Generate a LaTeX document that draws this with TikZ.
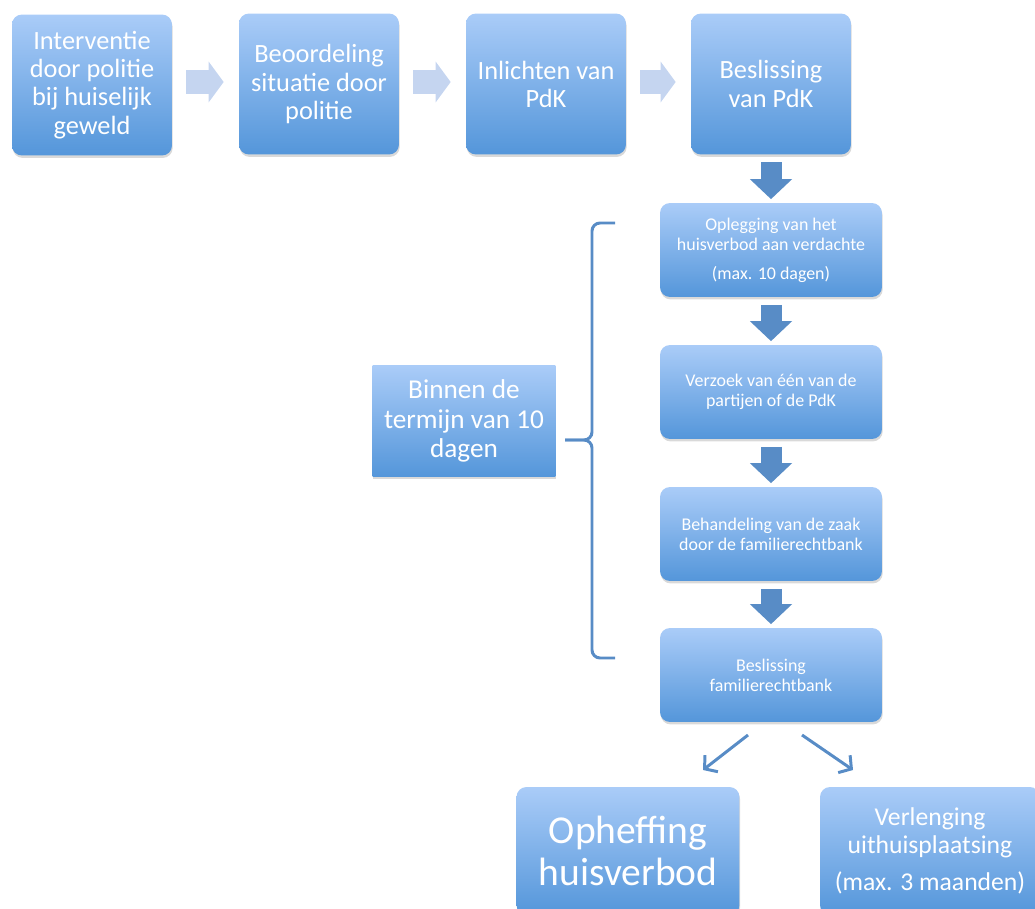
\documentclass[tikz,border=0pt]{standalone}
\usepackage{fontspec}
\setmainfont{Carlito}
\usetikzlibrary{arrows.meta,shadows}
\definecolor{boxtop}{RGB}{170,204,248}
\definecolor{boxbot}{RGB}{84,150,218}
\definecolor{darkarrow}{RGB}{88,140,198}
\definecolor{lightarrow}{RGB}{197,213,240}

\tikzset{
    box/.style={rounded corners=0.2cm, top color=boxtop, bottom color=boxbot, text=white, align=center,
        drop shadow={shadow xshift=0.4pt, shadow yshift=-1.4pt, opacity=0.3}},
    topbox/.style={box, minimum width=3.2cm, minimum height=2.82cm, font=\fontsize{15}{16}\selectfont},
    colbox/.style={box, minimum width=4.44cm, minimum height=1.88cm, font=\fontsize{10.2}{11.4}\selectfont},
    lightarr/.style={draw=lightarrow, line width=0.5cm, -{Triangle[length=0.3cm, width=0.8cm]},
        shorten <=0.28cm, shorten >=0.3cm},
    darkarr/.style={draw=darkarrow, line width=0.42cm, -{Triangle[length=0.4cm, width=0.82cm]},
        shorten <=0.15cm, shorten >=0.07cm},
    thinarr/.style={draw=darkarrow, line width=1.7pt, -{Straight Barb[length=5pt, width=12pt]}}
}

\begin{document}
\begin{tikzpicture}[x=0.02cm, y=-0.02cm]
    \useasboundingbox (0,0) rectangle (1035,909);

    \node[topbox] (interventie) at (92,85) {Interventie\\door politie\\bij huiselijk\\geweld};
    \node[topbox] (beoordeling) at (319,84) {Beoordeling\\situatie door\\politie};
    \node[topbox] (inlichten) at (546,84) {Inlichten van\\PdK};
    \node[topbox] (beslissingpdk) at (771,84) {Beslissing\\van PdK};

    \node[colbox] (oplegging) at (771,250) {Oplegging van het\\huisverbod aan verdachte\\[5pt](max. 10 dagen)};
    \node[colbox] (verzoek) at (771,392) {Verzoek van één van de\\partijen of de PdK};
    \node[colbox] (behandeling) at (771,534) {Behandeling van de zaak\\door de familierechtbank};
    \node[colbox] (beslissingfr) at (771,675) {Beslissing\\familierechtbank};

    \node[box, rounded corners=0pt, minimum width=3.66cm, minimum height=2.22cm,
        font=\fontsize{15.5}{17}\selectfont] (termijn) at (464,421) {Binnen de\\termijn van 10\\dagen};

    \node[box, minimum width=4.46cm, minimum height=2.56cm, font=\fontsize{22.5}{24}\selectfont]
        (opheffing) at (628,851) {Opheffing\\huisverbod};
    \node[box, minimum width=4.4cm, minimum height=2.56cm, font=\fontsize{14.6}{16}\selectfont]
        (verlenging) at (930,851) {Verlenging\\uithuisplaatsing\\[5pt](max. 3 maanden)};

    \path[lightarr] (interventie.east |- 0,82) -- (beoordeling.west |- 0,82);
    \path[lightarr] (beoordeling.east |- 0,82) -- (inlichten.west |- 0,82);
    \path[lightarr] (inlichten.east |- 0,82) -- (beslissingpdk.west |- 0,82);

    \path[darkarr] (beslissingpdk.south) -- (oplegging.north);
    \path[darkarr] (oplegging.south) -- (verzoek.north);
    \path[darkarr] (verzoek.south) -- (behandeling.north);
    \path[darkarr] (behandeling.south) -- (beslissingfr.north);

    % split after the decision
    \coordinate (linksvan) at (748,735);
    \coordinate (linksnaar) at (703,770);
    \coordinate (rechtsvan) at (802,735);
    \coordinate (rechtsnaar) at (853,770);
    \draw[thinarr] (linksvan) -- (linksnaar);
    \draw[thinarr] (rechtsvan) -- (rechtsnaar);

    % bracket
    \draw[darkarrow, line width=1.7pt, rounded corners=0.16cm] (615,223) -- (592,223) -- (592,440) -- (565,440);
    \draw[darkarrow, line width=1.7pt, rounded corners=0.16cm] (565,440) -- (592,440) -- (592,658) -- (615,658);
\end{tikzpicture}
\end{document}
